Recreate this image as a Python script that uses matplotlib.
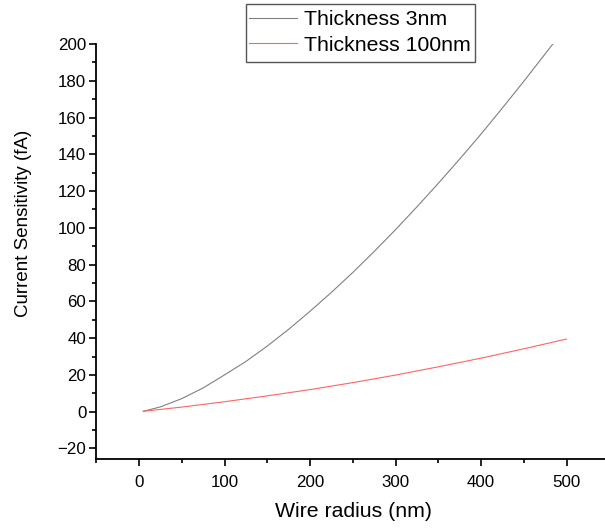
import matplotlib
matplotlib.use("Agg")
import matplotlib.pyplot as plt
from matplotlib.ticker import MultipleLocator
from matplotlib.patches import Rectangle

plt.rcParams['font.family'] = ['Liberation Sans', 'DejaVu Sans']

# Data
x_3nm = [5, 25, 50, 75, 100, 125, 150, 175, 200, 225, 250, 275, 300,
         325, 350, 375, 400, 425, 450, 484]
y_3nm = [0.2, 2.6, 7.1, 12.9, 20.0, 27.3, 35.7, 44.8, 54.6, 64.9, 75.7, 87.1, 99.0,
         111.4, 124.2, 137.4, 151.0, 165.2, 179.7, 200.0]
x_100nm = [5, 50, 100, 150, 200, 250, 300, 350, 400, 450, 500]
y_100nm = [0.2, 2.5, 5.4, 8.6, 12.0, 15.8, 19.9, 24.4, 29.1, 34.2, 39.5]
labels = ["Thickness 3nm", "Thickness 100nm"]

W, H = 605, 529
fig = plt.figure(figsize=(W / 100, H / 100), dpi=100)
ax = fig.add_axes([0.1587, 0.1318, 0.8413, 0.785])

ax.plot(x_3nm, y_3nm, color='#808080', lw=0.8, label=labels[0])
ax.plot(x_100nm, y_100nm, color='#ff6464', lw=0.8, label=labels[1])

ax.set_xlim(-50.3, 545)
ax.set_ylim(-25.9, 200)
ax.xaxis.set_major_locator(MultipleLocator(100))
ax.xaxis.set_minor_locator(MultipleLocator(50))
ax.set_yticks(range(-20, 201, 20))
ax.yaxis.set_minor_locator(MultipleLocator(10))

for s in ['top', 'right']:
    ax.spines[s].set_visible(False)
for s in ['left', 'bottom']:
    ax.spines[s].set_linewidth(1.3)
ax.tick_params(which='major', direction='out', length=5, width=1.2, labelsize=12.2,
               colors='black')
ax.tick_params(axis='y', which='major', pad=2)
ax.tick_params(axis='x', which='major', pad=6)
ax.tick_params(which='minor', direction='out', length=3, width=1.2)

ax.set_xlabel("Wire radius (nm)", fontsize=15.3)
ax.set_ylabel("Current Sensitivity (fA)", fontsize=13.5)
ax.xaxis.set_label_coords(0.506, -0.103)
ax.yaxis.set_label_coords(-0.126, 0.567)

leg = ax.legend(loc='upper left', bbox_to_anchor=(0.3006, 1.0819), borderaxespad=0,
                fontsize=15.3, frameon=False, handlelength=2.26,
                handletextpad=0.35, borderpad=0.0, labelspacing=0.32)

# legend box
fig.add_artist(Rectangle((246 / W, 1 - 62 / H), 229 / W, 58 / H,
                         transform=fig.transFigure, facecolor='none',
                         edgecolor='#555555', linewidth=1.0))

fig.savefig("out.png", dpi=100)
